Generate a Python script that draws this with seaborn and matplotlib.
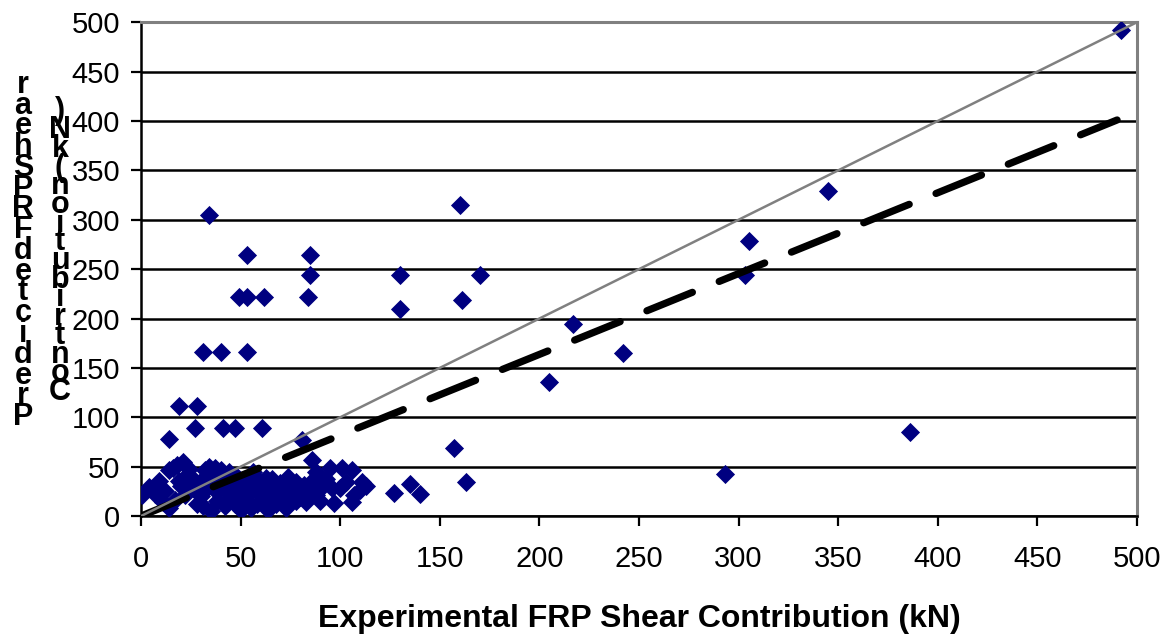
import numpy as np
import pandas as pd
import matplotlib
matplotlib.use("Agg")
import matplotlib.pyplot as plt
import seaborn as sns

# Experimental vs predicted FRP shear contribution (kN)
exp_kn = [492, 345, 386, 293, 305, 303, 217, 242, 205, 160, 161, 170, 130, 130, 157, 163, 135, 140, 127,
          34, 53, 85, 85, 84, 49, 53, 62, 31, 40, 53,
          19, 28, 14, 27, 41, 47, 61, 81, 86,
          95, 101, 106, 111, 110, 107, 100, 97,
          0.5, 4, 9, 11, 14, 14, 16, 18, 21, 24, 17, 22, 20, 25, 27, 28, 30, 32, 34, 37, 40, 43, 45, 48,
          52, 50, 35, 38, 42, 55, 57, 61, 65, 67, 70, 72, 76, 80, 82, 86, 91, 88, 83, 80, 76, 70, 66,
          63, 65, 64, 60, 58, 55, 46, 44, 48, 52, 56, 60, 62, 68, 72, 74, 78, 84, 90, 93, 30, 33, 36,
          38, 26, 23, 19, 12, 7, 31, 41, 47, 54, 59, 73, 78, 88, 96, 103, 106, 113, 34, 44, 51]
pred_kn = [492, 329, 85, 43, 278, 244, 194, 165, 136, 315, 219, 244, 244, 210, 69, 35, 32, 22, 23,
           305, 264, 264, 244, 222, 222, 222, 222, 166, 166, 166,
           111, 111, 78, 89, 89, 89, 89, 77, 57,
           49, 49, 47, 35, 26, 21, 28, 13,
           21, 29, 36, 14, 8, 47, 49, 52, 55, 48, 16, 21, 30, 40, 26, 12, 36, 47, 50, 49, 47, 38, 28, 21,
           16, 6, 5, 15, 10, 38, 28, 23, 31, 19, 26, 33, 26, 19, 31, 36, 29, 21, 14, 23, 29, 33, 38,
           39, 26, 6, 23, 12, 8, 33, 18, 40, 30, 45, 35, 15, 12, 20, 40, 15, 25, 15, 38, 20, 28, 34,
           24, 33, 42, 36, 25, 22, 10, 30, 12, 22, 30, 8, 35, 45, 28, 35, 14, 30, 41, 45, 36]

# reference lines
equal_x = [0, 500]
equal_y = [0, 500]
trend_x = [0, 490]
trend_y = [0, 401]

ticks = list(range(0, 501, 50))
xlabel = "Experimental FRP Shear Contribution (kN)"
ylabel_cols = ["Predicted FRP Shear", "Contribution (kN)"]

df = pd.DataFrame({"exp": exp_kn, "pred": pred_kn})

sns.set_style("white")
plt.rcParams["font.family"] = ["Liberation Sans", "DejaVu Sans"]
plt.rcParams["text.color"] = "black"
plt.rcParams["axes.labelcolor"] = "black"
plt.rcParams["xtick.color"] = "black"
plt.rcParams["ytick.color"] = "black"

fig = plt.figure(figsize=(11.65, 6.34), dpi=100)
ax = fig.add_axes([0.121, 0.186, 0.855, 0.779])

ax.yaxis.grid(True, color="black", linewidth=1.8)
ax.set_axisbelow(True)

sns.scatterplot(data=df, x="exp", y="pred", marker="D", s=95, color="#000080",
                linewidth=0, ax=ax, zorder=3)
sns.lineplot(x=trend_x, y=trend_y, color="black", linewidth=5.2, ax=ax, zorder=4)
ax.lines[-1].set_dashes((6.8, 4.0))
ax.lines[-1].set_dash_capstyle("round")
sns.lineplot(x=equal_x, y=equal_y, color="#808080", linewidth=1.8, ax=ax, zorder=5)

ax.set_xlim(0, 500)
ax.set_ylim(0, 500)
ax.set_xticks(ticks)
ax.set_yticks(ticks)
ax.tick_params(axis="both", direction="out", length=7, width=1.6, color="black",
               labelcolor="black", labelsize=21, bottom=True, left=True)
ax.tick_params(axis="x", pad=14)
ax.tick_params(axis="y", pad=8)

for side in ["left", "bottom"]:
    ax.spines[side].set_color("black")
    ax.spines[side].set_linewidth(1.8)
for side in ["top", "right"]:
    ax.spines[side].set_visible(True)
    ax.spines[side].set_color("#808080")
    ax.spines[side].set_linewidth(2.2)

ax.set_xlabel(xlabel, fontsize=23, fontweight="bold", labelpad=22, color="black")
ax.set_ylabel("")

# y label rendered as two stacked columns of upright letters, bottom to top
col_specs = [(23, 417, 20.75), (60, 392, 18.7)]
for text, (px, py0, step) in zip(ylabel_cols, col_specs):
    chars = text.replace(" ", "")
    for i, ch in enumerate(chars):
        fig.text(px / 1165, 1 - (py0 - i * step) / 634, ch, ha="center", va="center",
                 fontsize=22, fontweight="bold", color="black")

fig.savefig("out.png", dpi=100)
